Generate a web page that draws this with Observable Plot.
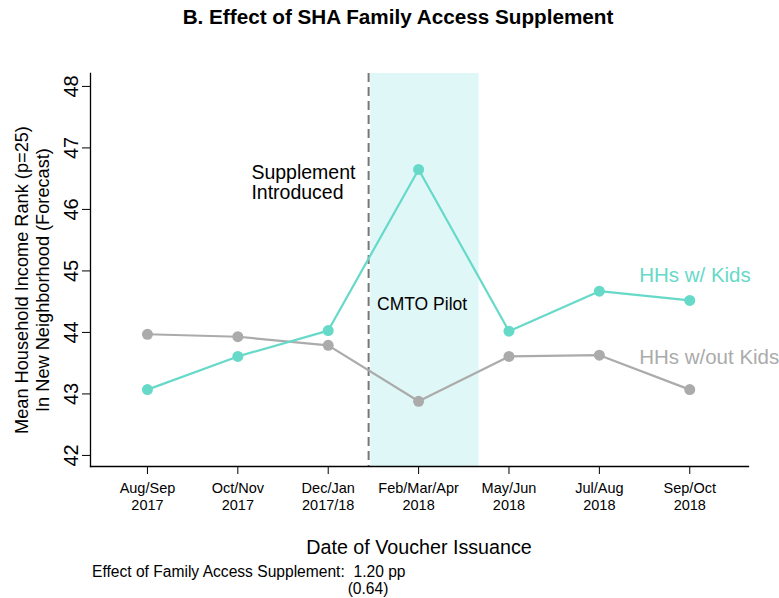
<!DOCTYPE html>
<html>
<head>
<meta charset="utf-8">
<script src="https://cdn.jsdelivr.net/npm/d3@7"></script>
<script src="https://cdn.jsdelivr.net/npm/@observablehq/plot@0.6"></script>
<style>
  html, body { margin: 0; padding: 0; background: #fff; }
  #wrap { position: relative; width: 779px; height: 598px; font-family: "Liberation Sans", Arial, sans-serif; color: #000; }
  #wrap svg { position: absolute; left: 0; top: 0; }
  .lbl { position: absolute; white-space: nowrap; }
</style>
</head>
<body>
<div id="wrap"></div>
<script>
const periods = ["Aug/Sep\n2017", "Oct/Nov\n2017", "Dec/Jan\n2017/18", "Feb/Mar/Apr\n2018", "May/Jun\n2018", "Jul/Aug\n2018", "Sep/Oct\n2018"];
const withKids = [43.07, 43.61, 44.03, 46.65, 44.02, 44.67, 44.52];
const withoutKids = [43.97, 43.93, 43.79, 42.88, 43.61, 43.63, 43.07];
const yTicks = [42, 43, 44, 45, 46, 47, 48];
const pilotSpan = [2.47, 3.67];
const supplementAt = 2.447;
const annotations = [
  {x: 1.15, y: 46.44, text: "Supplement\nIntroduced", color: "#000", size: 19.5},
  {x: 2.54, y: 44.46, text: "CMTO Pilot", color: "#000", size: 17.5},
  {x: 5.44, y: 44.93, text: "HHs w/ Kids", color: "#66D9C8", size: 20.5},
  {x: 5.44, y: 43.59, text: "HHs w/out Kids", color: "#ABABAB", size: 20.5}
];

const TEAL = "#66D9C8", GRAY = "#ABABAB";
const kids = periods.map((p, i) => ({i, v: withKids[i]}));
const nokids = periods.map((p, i) => ({i, v: withoutKids[i]}));

const plot = Plot.plot({
  width: 779,
  height: 598,
  marginTop: 73,
  marginBottom: 132,
  marginLeft: 90,
  marginRight: 31,
  style: {fontFamily: "Liberation Sans, Arial, sans-serif", background: "transparent", color: "#000"},
  x: {domain: [-0.63, 6.65], label: null},
  y: {domain: [41.82, 48.21], label: null},
  marks: [
    Plot.rectX([pilotSpan], {x1: d => d[0], x2: d => d[1], y1: 41.82, y2: 48.21, fill: "#E0F7F8"}),
    Plot.ruleX([supplementAt], {stroke: "#777", strokeWidth: 2, strokeDasharray: "9,5"}),
    Plot.line(nokids, {x: "i", y: "v", stroke: GRAY, strokeWidth: 2.2}),
    Plot.dot(nokids, {x: "i", y: "v", fill: GRAY, r: 5.5}),
    Plot.line(kids, {x: "i", y: "v", stroke: TEAL, strokeWidth: 2.2}),
    Plot.dot(kids, {x: "i", y: "v", fill: TEAL, r: 5.5}),
    ...annotations.map(a => Plot.text([a], {x: "x", y: "y", text: "text", fill: a.color, fontSize: a.size, textAnchor: "start", lineHeight: 1.03})),
    Plot.axisY({ticks: yTicks, tickSize: 8, tickPadding: 5, fontSize: 20, tickRotate: -90, tickFormat: d => String(d), label: null}),
    Plot.axisX({ticks: d3.range(periods.length), tickSize: 8, tickPadding: 7, fontSize: 14.5, tickFormat: i => periods[i], label: null, lineHeight: 1.16}),
    Plot.frame({anchor: "left", stroke: "#000", strokeWidth: 1.3}),
    Plot.frame({anchor: "bottom", stroke: "#000", strokeWidth: 1.3})
  ]
});

const wrap = document.getElementById("wrap");
wrap.appendChild(plot);

function addLabel(html, css) {
  const d = document.createElement("div");
  d.className = "lbl";
  d.innerHTML = html;
  Object.assign(d.style, css);
  wrap.appendChild(d);
  return d;
}
addLabel("B. Effect of SHA Family Access Supplement", {left: "0", width: "796px", top: "5px", textAlign: "center", fontWeight: "bold", fontSize: "20.7px"});
addLabel("Date of Voucher Issuance", {left: "0", width: "838px", top: "536px", textAlign: "center", fontSize: "19.7px"});
addLabel("Effect of Family Access Supplement:&nbsp;&nbsp;1.20 pp", {left: "92px", top: "563px", fontSize: "15.6px"});
addLabel("(0.64)", {left: "338px", top: "580px", fontSize: "15.6px", width: "60px", textAlign: "center"});
addLabel("Mean Household Income Rank (p=25)<br>In New Neighborhood (Forecast)", {left: "33px", top: "280px", fontSize: "18.2px", textAlign: "center", lineHeight: "21px", transform: "translate(-50%,-50%) rotate(-90deg)"});
</script>
</body>
</html>
